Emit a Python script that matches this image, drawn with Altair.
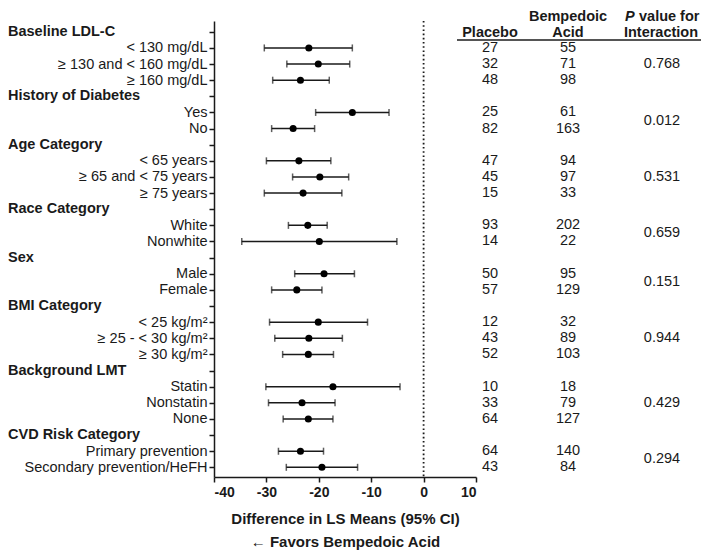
import altair as alt
import pandas as pd

# ---------------- data ----------------
group_titles = ["Baseline LDL-C", "History of Diabetes", "Age Category", "Race Category",
                "Sex", "BMI Category", "Background LMT", "CVD Risk Category"]
group_sizes = [3, 2, 3, 2, 2, 3, 3, 2]
subgroups = ["< 130 mg/dL", "≥ 130 and < 160 mg/dL", "≥ 160 mg/dL",
             "Yes", "No",
             "< 65 years", "≥ 65 and < 75 years", "≥ 75 years",
             "White", "Nonwhite",
             "Male", "Female",
             "< 25 kg/m²", "≥ 25 - < 30 kg/m²", "≥ 30 kg/m²",
             "Statin", "Nonstatin", "None",
             "Primary prevention", "Secondary prevention/HeFH"]
estimate = [-21.9, -20.1, -23.5, -13.6, -24.9, -23.8, -19.8, -23.0, -22.1, -19.9,
            -19.0, -24.2, -20.1, -21.9, -22.0, -17.3, -23.2, -22.0, -23.5, -19.4]
ci_low = [-30.4, -26.1, -28.8, -20.6, -29.0, -30.0, -25.0, -30.4, -25.8, -34.7,
          -24.6, -29.0, -29.4, -28.4, -26.9, -30.1, -29.6, -26.8, -27.7, -26.2]
ci_high = [-13.6, -14.1, -18.0, -6.6, -20.8, -17.7, -14.3, -15.6, -18.4, -5.1,
           -13.2, -19.4, -10.7, -15.5, -17.2, -4.5, -16.9, -17.3, -19.1, -12.6]
n_placebo = [27, 32, 48, 25, 82, 47, 45, 15, 93, 14, 50, 57, 12, 43, 52, 10, 33, 64, 64, 43]
n_bempedoic = [55, 71, 98, 61, 163, 94, 97, 33, 202, 22, 95, 129, 32, 89, 103, 18, 79, 127, 140, 84]
p_interaction = ["0.768", "0.012", "0.531", "0.659", "0.151", "0.944", "0.429", "0.294"]
x_ticks = [-40, -30, -20, -10, 0, 10]

# ---------------- build row layout ----------------
header_rows, sub_rows, p_rows = [], [], []
r = 0
for size in group_sizes:
    header_rows.append(r)
    rows = list(range(r + 1, r + 1 + size))
    sub_rows.extend(rows)
    p_rows.append(sum(rows) / len(rows))
    r += size + 1
n_rows = r
row_labels = [""] * n_rows
for lab, rr in zip(subgroups, sub_rows):
    row_labels[rr] = lab

df = pd.DataFrame({"row": sub_rows, "label": subgroups, "est": estimate,
                   "low": ci_low, "high": ci_high,
                   "npl": [str(v) for v in n_placebo],
                   "nba": [str(v) for v in n_bempedoic]})
hdr = pd.DataFrame({"row": header_rows, "title": group_titles})
pdf = pd.DataFrame({"row": p_rows, "p": p_interaction})

FONT = "Liberation Sans"
INK = "#1a1a1a"

xscale = alt.Scale(domain=[-40, 10], nice=False, zero=False)
yscale = alt.Scale(domain=[-0.67, n_rows - 0.4], reverse=True, nice=False, zero=False)

label_expr = "[" + ",".join("'" + s + "'" for s in row_labels) + "][datum.value]"

xaxis = alt.Axis(values=x_ticks, grid=False,
                 labelExpr="datum.value < 0 ? '-' + abs(datum.value) : '' + datum.value",
                 labelFontSize=14, labelFontWeight="bold", labelColor=INK, labelPadding=3,
                 tickSize=5, tickWidth=1.5, tickColor=INK,
                 domainColor=INK, domainWidth=1.5,
                 title=["Difference in LS Means (95% CI)", "← Favors Bempedoic Acid"],
                 titleFontSize=15, titleFontWeight="bold", titleColor=INK,
                 titlePadding=12, titleLineHeight=23)
yaxis = alt.Axis(values=list(range(n_rows)), grid=False, labelExpr=label_expr,
                 labelFontSize=14.5, labelColor=INK, labelPadding=2, labelFont=FONT,
                 labelLimit=0,
                 tickSize=5, tickWidth=1.5, tickColor=INK,
                 domainColor=INK, domainWidth=1.5, title=None)


def X(field):
    return alt.X(f"{field}:Q", scale=xscale, axis=xaxis)


def Y(field="row"):
    return alt.Y(f"{field}:Q", scale=yscale, axis=yaxis)


base = alt.Chart(df)

bars = base.mark_rule(strokeWidth=1.5, color=INK).encode(
    x=X("low"), x2="high:Q", y=Y())
cap_lo = base.mark_tick(orient="vertical", size=7, thickness=1.5, color=INK).encode(
    x=X("low"), y=Y())
cap_hi = base.mark_tick(orient="vertical", size=7, thickness=1.5, color=INK).encode(
    x=X("high"), y=Y())
pts = base.mark_circle(size=50, color="black", opacity=1).encode(x=X("est"), y=Y())

zero = alt.Chart(pd.DataFrame({"z": [0]})).mark_rule(
    strokeDash=[1.6, 2.6], strokeWidth=1.8, color=INK).encode(x=X("z"))

headers = alt.Chart(hdr).mark_text(
    align="left", baseline="middle", fontSize=14.5, fontWeight="bold", color=INK
).encode(x=alt.value(-206), y=Y(), text="title:N")

col_pl = base.mark_text(align="center", baseline="middle", fontSize=14.5, color=INK).encode(
    x=alt.value(276), y=Y(), text="npl:N")
col_ba = base.mark_text(align="center", baseline="middle", fontSize=14.5, color=INK).encode(
    x=alt.value(354), y=Y(), text="nba:N")
col_p = alt.Chart(pdf).mark_text(align="center", baseline="middle", fontSize=14.5, color=INK).encode(
    x=alt.value(448), y=Y(), text="p:N")


def head_text(txt, x, y, align="center", style="normal"):
    return alt.Chart(pd.DataFrame({"t": [txt]})).mark_text(
        align=align, baseline="middle", fontSize=14.5, fontWeight="bold",
        fontStyle=style, color=INK
    ).encode(x=alt.value(x), y=alt.value(y), text="t:N")


L1, L2 = -4, 11.5
tbl_head = [
    head_text("Placebo", 276, L2),
    head_text("Bempedoic", 354, L1),
    head_text("Acid", 354, L2),
    head_text("P", 411, L1, align="left", style="italic"),
    head_text("value for", 425, L1, align="left"),
    head_text("Interaction", 447, L2),
]

underline = alt.Chart(pd.DataFrame({"a": [0]})).mark_rule(strokeWidth=2, color="#555").encode(
    x=alt.value(243), x2=alt.value(500), y=alt.value(19))

chart = alt.layer(
    zero, bars, cap_lo, cap_hi, pts, headers, col_pl, col_ba, col_p, underline, *tbl_head
).properties(
    width=262, height=456,
    autosize=alt.AutoSizeParams(type="none"),
    padding={"left": 206, "top": 13, "right": 225, "bottom": 75},
).configure(font=FONT).configure_view(stroke=None)

chart.save("out.html", embed_options={"renderer": "svg", "actions": False})
